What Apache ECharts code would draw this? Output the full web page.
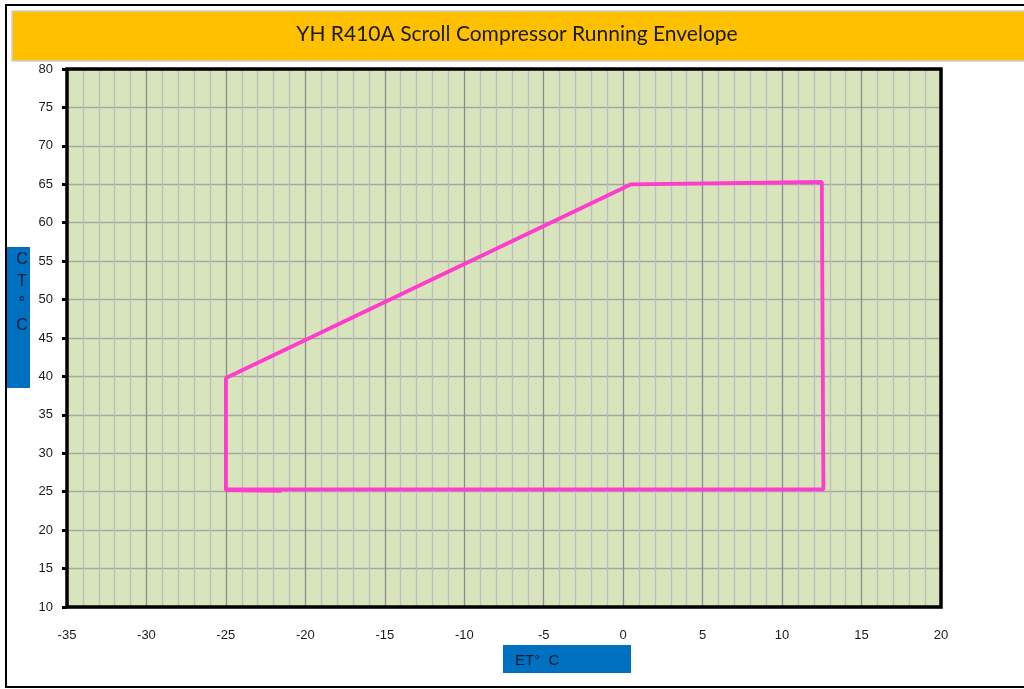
<!DOCTYPE html>
<html><head><meta charset="utf-8">
<script src="https://cdn.jsdelivr.net/npm/echarts@6/dist/echarts.min.js"></script>
<style>html,body{margin:0;padding:0;background:#fff}#c{width:1024px;height:689px}</style>
</head><body><div id="c"></div>
<script>
const titleText = "YH R410A Scroll Compressor Running Envelope";
const xAxisName = "ET°  C";
const yAxisNameChars = ["C", "T", "°", "C"];
const envelopeET = [-21.5, -25.0, -25.0, 0.5, 12.5, 12.6, -25.0];
const envelopeCT = [25.1, 25.2, 39.8, 65.0, 65.3, 25.3, 25.3];

const chart = echarts.init(document.getElementById('c'), null, {renderer: 'canvas'});
const data = envelopeET.map((x, i) => [x, envelopeCT[i]]);
chart.setOption({
  animation: false,
  grid: {left: 67, right: 83, top: 69, bottom: 82, show: true, backgroundColor: '#D8E4BC', borderColor: '#000', borderWidth: 0},
  xAxis: {
    type: 'value', min: -35, max: 20, interval: 5,
    axisLine: {show: false, onZero: false}, axisTick: {show: false},
    axisLabel: {color: '#1a1a1a', fontFamily: 'Liberation Sans', fontSize: 13, margin: 22},
    splitLine: {show: true, lineStyle: {color: '#8c8c8c', width: 1.3}},
    minorTick: {show: false, splitNumber: 5},
    minorSplitLine: {show: true, lineStyle: {color: '#bdbdbd', width: 1.3}}
  },
  yAxis: {
    type: 'value', min: 10, max: 80, interval: 5,
    axisLine: {show: false, onZero: false},
    axisTick: {show: true, length: 5, lineStyle: {color: '#000', width: 3}},
    axisLabel: {color: '#1a1a1a', fontFamily: 'Liberation Sans', fontSize: 13, margin: 14},
    splitLine: {show: true, lineStyle: {color: '#a6a6a6', width: 1.3}}
  },
  series: [{
    type: 'line', data: data, showSymbol: false, symbol: 'none',
    lineStyle: {color: '#FF3CCB', width: 3.8}
  }],
  graphic: [
    {type: 'rect', shape: {x: 67, y: 69, width: 874, height: 538}, style: {fill: 'none', stroke: '#000', lineWidth: 3.5}, z: 100},
    {type: 'rect', shape: {x: 6, y: 5, width: 1030, height: 682}, style: {fill: 'none', stroke: '#000', lineWidth: 2}, z: 100},
    {type: 'rect', shape: {x: 12, y: 11, width: 1020, height: 50}, style: {fill: '#FFC000', stroke: '#cfcfcf', lineWidth: 1.5}, z: 100},
    {type: 'text', x: 517, y: 34, style: {text: titleText, fill: '#1a1a1a', font: '21px Lato', textAlign: 'center', textVerticalAlign: 'middle'}, z: 101},
    {type: 'rect', shape: {x: 7, y: 247, width: 23, height: 141}, style: {fill: '#0070C0'}, z: 100},
    {type: 'text', x: 22, y: 249, style: {text: yAxisNameChars.join('\n'), fill: '#0d1a33', font: '16px Liberation Sans', textAlign: 'center', textVerticalAlign: 'top', lineHeight: 22}, z: 101},
    {type: 'rect', shape: {x: 503, y: 645, width: 128, height: 28}, style: {fill: '#0070C0'}, z: 100},
    {type: 'text', x: 515, y: 661, style: {text: xAxisName, fill: '#0d1a33', font: '15px Liberation Sans', textAlign: 'left', textVerticalAlign: 'middle'}, z: 101}
  ]
});
</script></body></html>
